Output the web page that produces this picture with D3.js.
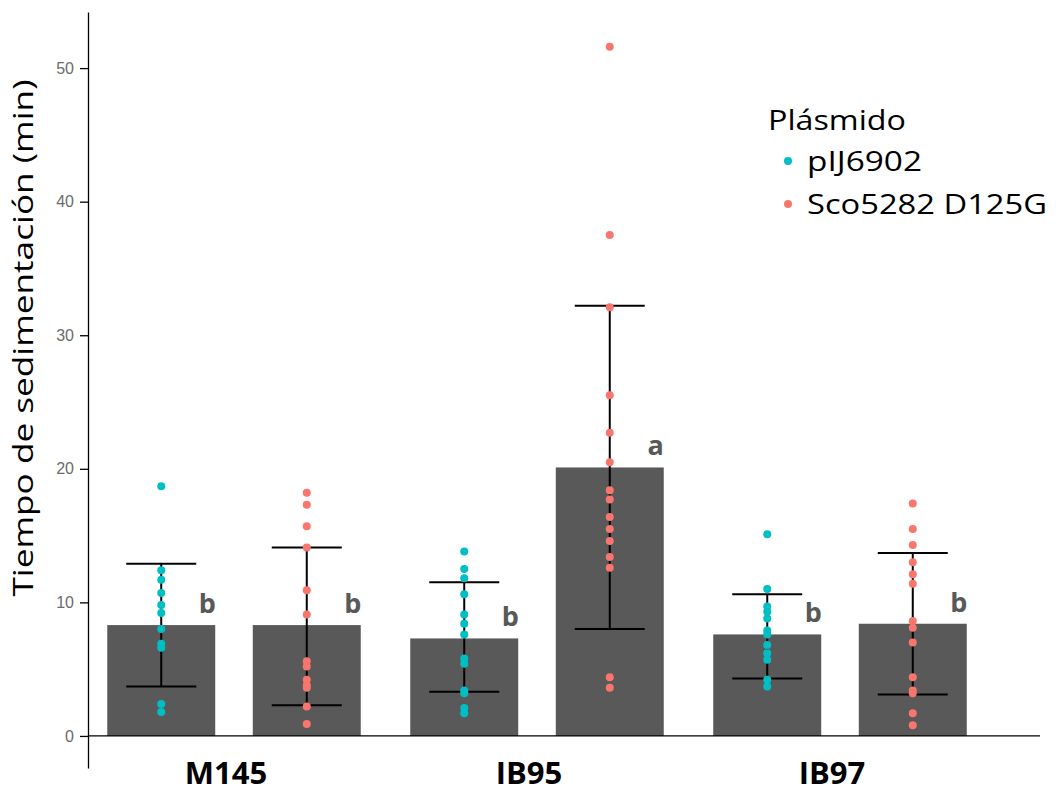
<!DOCTYPE html>
<html lang="es">
<head>
<meta charset="utf-8">
<title>Tiempo de sedimentación</title>
<script src="https://cdnjs.cloudflare.com/ajax/libs/d3/7.8.5/d3.min.js"></script>
<style>
  html, body { margin: 0; padding: 0; background: #fff; }
  svg { display: block; }
  .tick text { font-family: "Liberation Sans", Arial, sans-serif; font-size: 16px; fill: #6b6b6b; }
</style>
</head>
<body>
<div id="chart"></div>
<script>
// ---- data ----
const cepas = ["M145", "IB95", "IB97"];
const plasmidos = ["pIJ6902", "Sco5282 D125G"];
const colores = ["#00BFC4", "#F8766D"];

const mediaPIJ = [8.3, 7.3, 7.6];
const mediaSco = [8.3, 20.1, 8.4];
const errBajoPIJ = [3.7, 3.3, 4.3];
const errAltoPIJ = [12.9, 11.5, 10.6];
const errBajoSco = [2.3, 8.0, 3.1];
const errAltoSco = [14.1, 32.2, 13.7];
const letrasPIJ = ["b", "b", "b"];
const letrasSco = ["b", "a", "b"];

const puntosPIJ = [
  [18.7, 12.4, 11.7, 10.7, 9.8, 9.2, 8.0, 6.9, 6.6, 2.4, 1.8],
  [13.8, 12.5, 11.8, 10.6, 9.1, 8.4, 7.6, 5.8, 5.4, 3.4, 3.2, 2.1, 1.7],
  [15.1, 11.0, 9.7, 9.3, 8.8, 7.9, 7.6, 6.8, 6.2, 5.7, 4.2, 3.7]
];
const puntosSco = [
  [18.2, 17.3, 15.7, 14.1, 10.9, 9.1, 5.6, 5.2, 4.2, 3.8, 3.6, 2.2, 0.9],
  [51.6, 37.5, 32.1, 25.5, 22.7, 20.5, 18.4, 17.7, 16.4, 15.5, 14.6, 13.4, 12.6, 4.4, 3.6],
  [17.4, 15.5, 14.3, 13.0, 12.1, 11.4, 8.6, 8.1, 7.0, 4.4, 3.4, 3.2, 1.7, 0.8]
];
const yTicks = [0, 10, 20, 30, 40, 50];

// build rows
const barras = [];
const puntos = [];
cepas.forEach(function(c, i) {
  barras.push({cepa: c, plasmido: plasmidos[0], media: mediaPIJ[i], lo: errBajoPIJ[i], hi: errAltoPIJ[i], letra: letrasPIJ[i]});
  barras.push({cepa: c, plasmido: plasmidos[1], media: mediaSco[i], lo: errBajoSco[i], hi: errAltoSco[i], letra: letrasSco[i]});
  puntosPIJ[i].forEach(function(v) { puntos.push({cepa: c, plasmido: plasmidos[0], v: v}); });
  puntosSco[i].forEach(function(v) { puntos.push({cepa: c, plasmido: plasmidos[1], v: v}); });
});

// ---- layout ----
const W = 1056, H = 793;
const svg = d3.select("#chart").append("svg").attr("width", W).attr("height", H);

const x = d3.scaleBand().domain(cepas).range([82.5, 991.5]);
const xIn = d3.scaleBand().domain(plasmidos).range([24.75, 278.25]).paddingInner(0.258);
const y = d3.scaleLinear().domain([-2.4, 54.2]).range([768, 12]);
const color = d3.scaleOrdinal().domain(plasmidos).range(colores);

function cx(d) { return x(d.cepa) + xIn(d.plasmido) + xIn.bandwidth() / 2; }

// y axis
const yAxis = svg.append("g")
  .attr("transform", "translate(88,0)")
  .call(d3.axisLeft(y).tickValues(yTicks).tickSize(8).tickPadding(6).tickSizeOuter(0));
yAxis.select(".domain").attr("stroke", "#000").attr("stroke-width", 1.3);
yAxis.selectAll(".tick line").attr("stroke", "#000").attr("stroke-width", 1.3);

// bars
svg.selectAll(".bar").data(barras).enter().append("rect")
  .attr("class", "bar")
  .attr("x", function(d) { return x(d.cepa) + xIn(d.plasmido); })
  .attr("width", xIn.bandwidth())
  .attr("y", function(d) { return y(d.media); })
  .attr("height", function(d) { return y(0) - y(d.media); })
  .attr("fill", "#595959");

// zero line
svg.append("line")
  .attr("x1", 88).attr("x2", 1040)
  .attr("y1", y(0)).attr("y2", y(0))
  .attr("stroke", "#000").attr("stroke-width", 1.3);

// error bars
const eb = svg.selectAll(".err").data(barras).enter().append("g").attr("class", "err")
  .attr("stroke", "#000").attr("stroke-width", 2);
eb.append("line").attr("x1", cx).attr("x2", cx)
  .attr("y1", function(d) { return y(d.lo); }).attr("y2", function(d) { return y(d.hi); });
eb.append("line").attr("x1", function(d) { return cx(d) - 35; }).attr("x2", function(d) { return cx(d) + 35; })
  .attr("y1", function(d) { return y(d.hi); }).attr("y2", function(d) { return y(d.hi); });
eb.append("line").attr("x1", function(d) { return cx(d) - 35; }).attr("x2", function(d) { return cx(d) + 35; })
  .attr("y1", function(d) { return y(d.lo); }).attr("y2", function(d) { return y(d.lo); });

// points
svg.selectAll(".pt").data(puntos).enter().append("circle")
  .attr("class", "pt")
  .attr("cx", cx)
  .attr("cy", function(d) { return y(d.v); })
  .attr("r", 4)
  .attr("fill", function(d) { return color(d.plasmido); });

// significance letters
svg.selectAll(".letra").data(barras).enter().append("text")
  .attr("class", "letra")
  .attr("x", function(d) { return cx(d) + 46; })
  .attr("y", function(d) { return y(d.media) - 12; })
  .attr("text-anchor", "middle")
  .attr("font-family", "'Open Sans', sans-serif")
  .attr("font-weight", "bold")
  .attr("font-size", 27)
  .attr("fill", "#595959")
  .text(function(d) { return d.letra; });

// x labels
svg.selectAll(".xlab").data(cepas).enter().append("text")
  .attr("class", "xlab")
  .attr("x", function(d) { return x(d) + x.bandwidth() / 2 - 8; })
  .attr("y", 784)
  .attr("text-anchor", "middle")
  .attr("font-family", "'Open Sans', sans-serif")
  .attr("font-weight", "bold")
  .attr("font-size", 31)
  .attr("fill", "#000")
  .text(function(d) { return d; });

// y title
svg.append("text")
  .attr("transform", "translate(33,338) rotate(-90)")
  .attr("text-anchor", "middle")
  .attr("font-family", "'Open Sans', sans-serif")
  .attr("font-size", 28)
  .attr("textLength", 517)
  .attr("lengthAdjust", "spacingAndGlyphs")
  .attr("fill", "#000")
  .text("Tiempo de sedimentación (min)");

// legend
const leg = svg.append("g");
leg.append("text")
  .attr("x", 768).attr("y", 130)
  .attr("font-family", "'Open Sans', sans-serif")
  .attr("font-size", 27)
  .attr("textLength", 138)
  .attr("lengthAdjust", "spacingAndGlyphs")
  .text("Plásmido");
const li = leg.selectAll(".li").data(plasmidos).enter().append("g")
  .attr("transform", function(d, i) { return "translate(0," + (161 + i * 43) + ")"; });
li.append("circle").attr("cx", 788).attr("cy", 0).attr("r", 4)
  .attr("fill", function(d) { return color(d); });
li.append("text")
  .attr("x", 807).attr("y", 10)
  .attr("font-family", "'Open Sans', sans-serif")
  .attr("font-size", 27)
  .attr("textLength", function(d, i) { return i === 0 ? 115 : 240; })
  .attr("lengthAdjust", "spacingAndGlyphs")
  .text(function(d) { return d; });
</script>
</body>
</html>
